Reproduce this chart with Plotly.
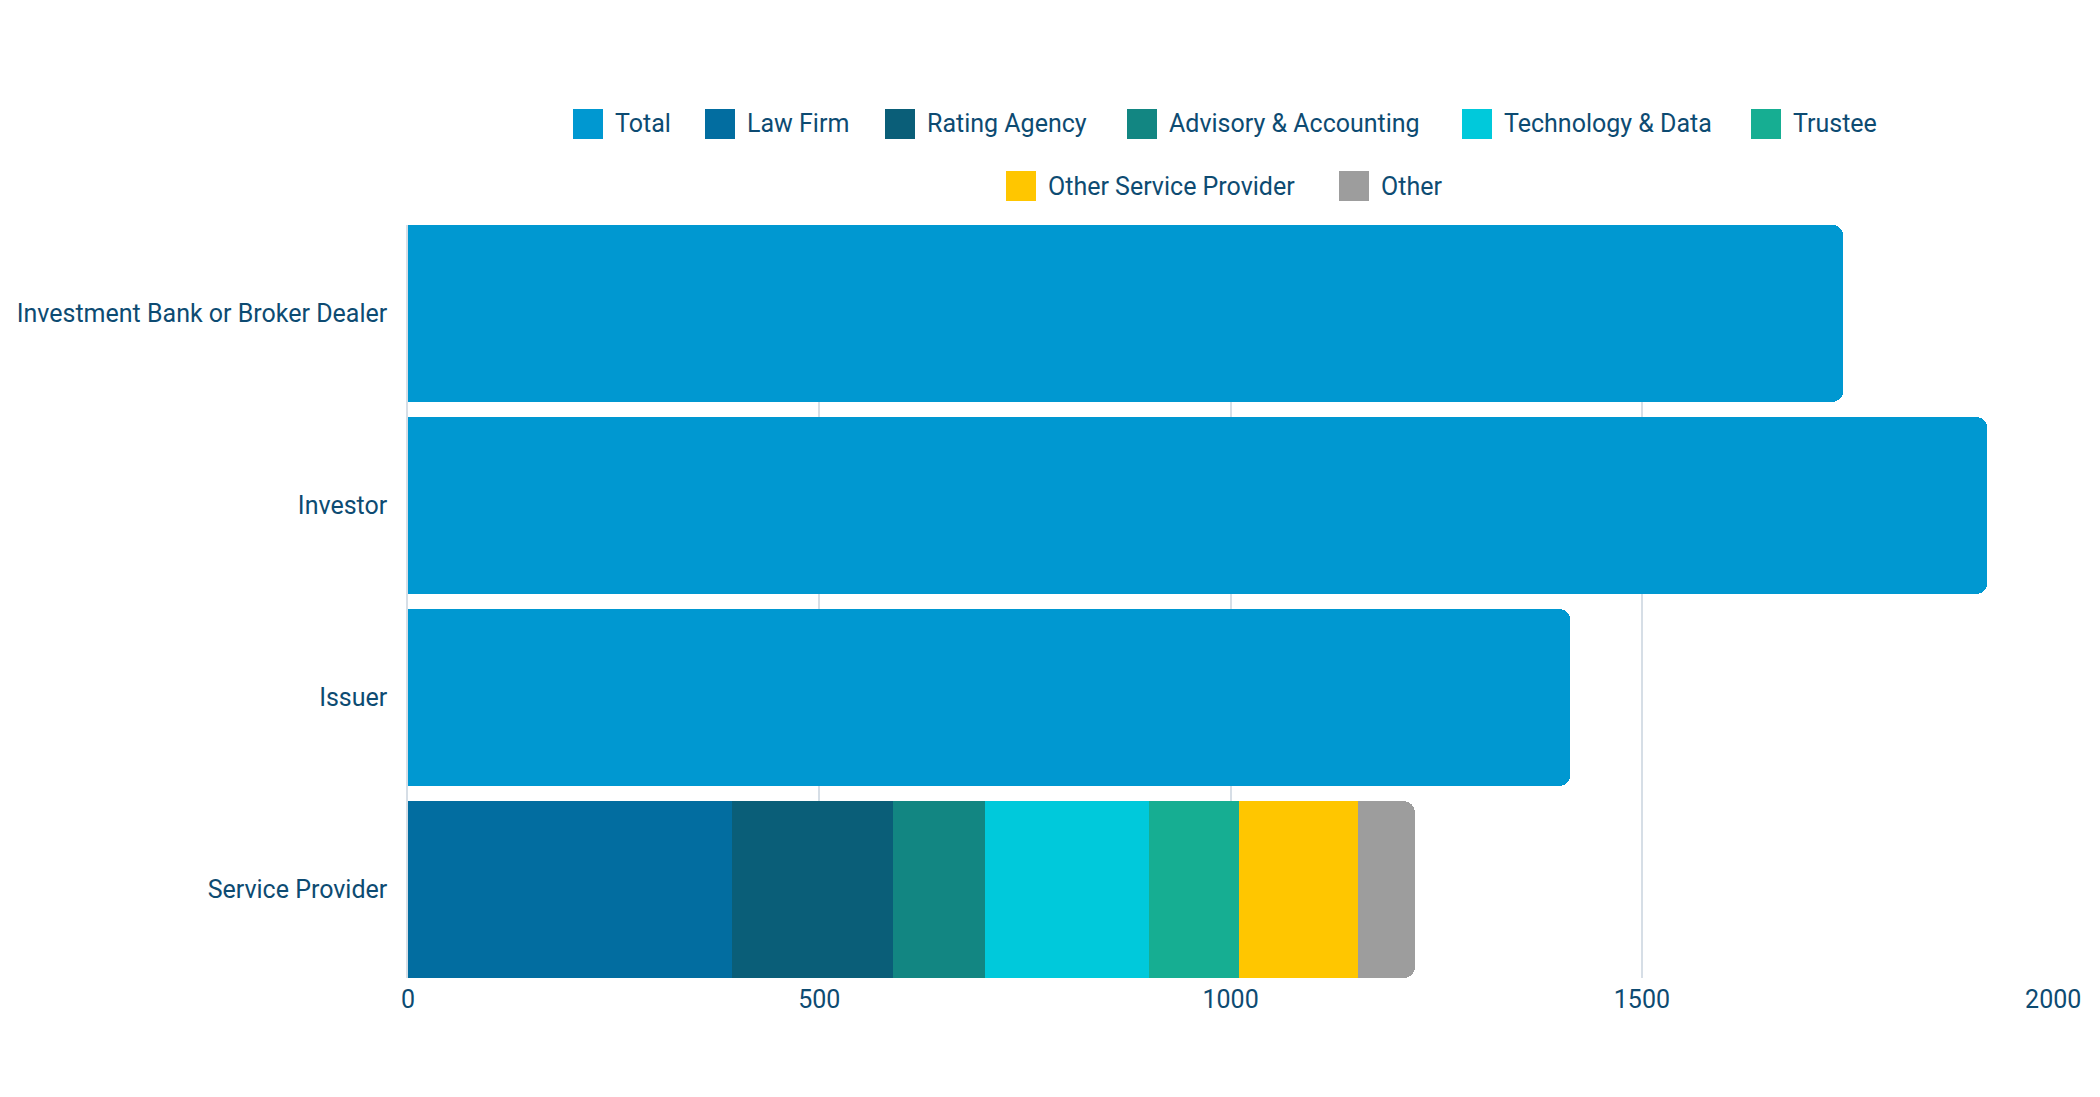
import plotly.graph_objects as go

categories = ["Investment Bank or Broker Dealer", "Investor", "Issuer", "Service Provider"]
total_values = [1745, 1920, 1413, None]
sp_series = ["Law Firm", "Rating Agency", "Advisory & Accounting", "Technology & Data",
             "Trustee", "Other Service Provider", "Other"]
sp_values = [394, 195, 112, 200, 109, 145, 69]
series_names = ["Total"] + sp_series
colors = ["#0098D1", "#026DA0", "#0A5E78", "#128682", "#00C9DB", "#16AE92", "#FFC600", "#9D9D9D"]
x_ticks = [0, 500, 1000, 1500, 2000]

TEXT = "#0D4B72"
FONT = "Roboto"
FS = 25

fig = go.Figure()
fig.add_trace(go.Bar(y=categories, x=total_values, orientation="h", name="Total",
                     marker=dict(color=colors[0], line=dict(width=0)), showlegend=False))
for i, (name, v) in enumerate(zip(sp_series, sp_values)):
    fig.add_trace(go.Bar(y=[categories[-1]], x=[v], orientation="h", name=name,
                         marker=dict(color=colors[i + 1], line=dict(width=0)), showlegend=False))

# page body has an 8px margin; compensate so the plot lands at the same absolute place
OFF = 8
W, H = 2100 - OFF, 1097 - OFF
ml, mr, mt, mb = 408 - OFF, 46, 225 - OFF, 119
pw, ph = W - ml - mr, H - mt - mb

def px_to_paper_x(px):
    return (px - OFF - ml) / pw

def py_to_paper_y(py):
    return (H - mb - (py - OFF)) / ph

legend_pos = [  # (square_left_px, row_center_px) in window pixels
    (573, 124), (705, 124), (885, 124), (1127, 124), (1462, 124), (1751, 124),
    (1006, 186), (1339, 186),
]
sq = 30
for name, col, (lx, cy) in zip(series_names, colors, legend_pos):
    fig.add_shape(type="rect", xref="paper", yref="paper",
                  x0=px_to_paper_x(lx), x1=px_to_paper_x(lx + sq),
                  y0=py_to_paper_y(cy + sq / 2), y1=py_to_paper_y(cy - sq / 2),
                  fillcolor=col, line=dict(width=0), layer="above")
    fig.add_annotation(xref="paper", yref="paper", x=px_to_paper_x(lx + sq + 10),
                       y=py_to_paper_y(cy), text=name, showarrow=False,
                       xanchor="left", yanchor="middle",
                       font=dict(family=FONT, size=FS, color=TEXT))

fig.update_layout(
    width=W, height=H,
    margin=dict(l=ml, r=mr, t=mt, b=mb),
    barmode="stack", bargap=0.08, barcornerradius=11,
    plot_bgcolor="white", paper_bgcolor="white",
    font=dict(family=FONT, size=FS, color=TEXT),
    showlegend=False,
)
fig.update_xaxes(range=[0, 2001], tickvals=x_ticks, showgrid=True, gridcolor="#D6DEE6",
                 gridwidth=1.5, zeroline=False, showline=False, ticklabelstandoff=4,
                 automargin=False, tickfont=dict(family=FONT, size=FS, color=TEXT))
fig.update_yaxes(categoryorder="array", categoryarray=categories, range=[3.46, -0.46],
                 showgrid=False, zeroline=False, showline=True, linecolor="#D6DEE6",
                 linewidth=1.5, ticklabelstandoff=14, automargin=False,
                 tickfont=dict(family=FONT, size=FS, color=TEXT))

fig.write_html("out.html")
